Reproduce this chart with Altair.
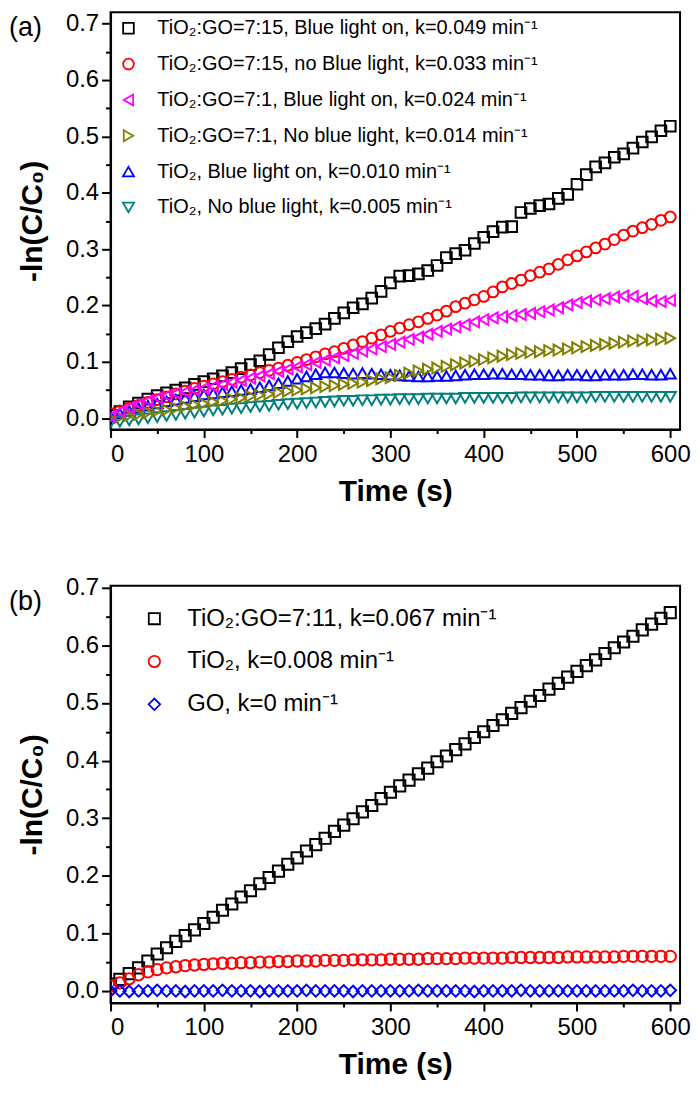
import altair as alt
import pandas as pd

FONT = "Liberation Sans"

# ---------------- data ----------------
time_s = list(range(0, 601, 10))

# Panel (a)
labels_a = [
    "TiO₂:GO=7:15, Blue light on, k=0.049 min⁻¹",
    "TiO₂:GO=7:15, no Blue light, k=0.033 min⁻¹",
    "TiO₂:GO=7:1, Blue light on, k=0.024 min⁻¹",
    "TiO₂:GO=7:1, No blue light, k=0.014 min⁻¹",
    "TiO₂, Blue light on, k=0.010 min⁻¹",
    "TiO₂, No blue light, k=0.005 min⁻¹",
]
colors_a = ["#000000", "#FF0000", "#FF00FF", "#808000", "#0000FF", "#008080"]
shapes_a = ["square", "circle", "triangle-left", "triangle-right", "triangle-up", "triangle-down"]
sizes_a = [115, 125, 210, 210, 160, 160]

black_a = [0.005, 0.012, 0.020, 0.027, 0.034, 0.040, 0.045, 0.050, 0.054, 0.060,
           0.065, 0.070, 0.075, 0.081, 0.088, 0.095, 0.102, 0.113, 0.125, 0.136,
           0.145, 0.152, 0.159, 0.167, 0.177, 0.187, 0.196, 0.203, 0.213, 0.225,
           0.240, 0.252, 0.253, 0.256, 0.262, 0.271, 0.285, 0.292, 0.298, 0.310,
           0.321, 0.331, 0.339, 0.340, 0.365, 0.372, 0.377, 0.380, 0.390, 0.397,
           0.415, 0.432, 0.446, 0.453, 0.463, 0.469, 0.479, 0.490, 0.499, 0.510,
           0.518]
red_a = [0.008, 0.013, 0.018, 0.023, 0.028, 0.033, 0.038, 0.043, 0.048, 0.053,
         0.057, 0.061, 0.065, 0.069, 0.073, 0.077, 0.081, 0.085, 0.089, 0.094,
         0.099, 0.104, 0.109, 0.114, 0.118, 0.124, 0.130, 0.136, 0.142, 0.148,
         0.154, 0.160, 0.166, 0.171, 0.177, 0.183, 0.190, 0.198, 0.204, 0.210,
         0.216, 0.224, 0.233, 0.239, 0.245, 0.253, 0.259, 0.265, 0.273, 0.281,
         0.288, 0.295, 0.302, 0.309, 0.317, 0.325, 0.332, 0.338, 0.344, 0.351,
         0.357]
magenta_a = [0.003, 0.012, 0.019, 0.025, 0.031, 0.036, 0.040, 0.044, 0.047, 0.050,
             0.053, 0.056, 0.060, 0.064, 0.067, 0.071, 0.075, 0.079, 0.083, 0.087,
             0.091, 0.095, 0.099, 0.103, 0.107, 0.111, 0.115, 0.119, 0.123, 0.127,
             0.131, 0.135, 0.140, 0.144, 0.149, 0.154, 0.158, 0.162, 0.166, 0.171,
             0.175, 0.178, 0.180, 0.182, 0.184, 0.186, 0.189, 0.192, 0.196, 0.201,
             0.205, 0.208, 0.210, 0.212, 0.215, 0.217, 0.216, 0.212, 0.208, 0.207,
             0.209]
olive_a = [0.000, 0.002, 0.005, 0.007, 0.010, 0.013, 0.015, 0.018, 0.021, 0.024,
           0.026, 0.029, 0.031, 0.034, 0.036, 0.039, 0.041, 0.043, 0.046, 0.048,
           0.050, 0.052, 0.054, 0.056, 0.058, 0.060, 0.062, 0.064, 0.067, 0.070,
           0.072, 0.076, 0.080, 0.084, 0.087, 0.089, 0.092, 0.095, 0.098, 0.101,
           0.104, 0.107, 0.110, 0.113, 0.115, 0.117, 0.118, 0.120, 0.121, 0.123,
           0.125, 0.127, 0.129, 0.131, 0.133, 0.135, 0.137, 0.138, 0.139, 0.140,
           0.142]
blue_a = [0.003, 0.008, 0.013, 0.018, 0.022, 0.026, 0.030, 0.033, 0.036, 0.039,
          0.042, 0.044, 0.046, 0.048, 0.050, 0.052, 0.055, 0.058, 0.062, 0.066,
          0.070, 0.074, 0.078, 0.081, 0.081, 0.080, 0.079, 0.080, 0.079, 0.078,
          0.077, 0.076, 0.075, 0.074, 0.074, 0.075, 0.075, 0.076, 0.077, 0.078,
          0.078, 0.079, 0.079, 0.078, 0.078, 0.077, 0.077, 0.076, 0.076, 0.077,
          0.077, 0.076, 0.076, 0.077, 0.077, 0.077, 0.078, 0.078, 0.077, 0.077,
          0.079]
teal_a = [-0.008, -0.006, -0.004, -0.002, 0.000, 0.002, 0.004, 0.006, 0.008, 0.010,
          0.012, 0.014, 0.015, 0.017, 0.018, 0.020, 0.021, 0.022, 0.024, 0.025,
          0.026, 0.027, 0.028, 0.029, 0.030, 0.031, 0.031, 0.032, 0.032, 0.033,
          0.033, 0.034, 0.034, 0.034, 0.035, 0.035, 0.035, 0.035, 0.036, 0.036,
          0.036, 0.036, 0.036, 0.036, 0.037, 0.037, 0.037, 0.037, 0.037, 0.037,
          0.037, 0.037, 0.038, 0.038, 0.038, 0.038, 0.038, 0.038, 0.038, 0.038,
          0.038]

# Panel (b)
labels_b = [
    "TiO₂:GO=7:11, k=0.067 min⁻¹",
    "TiO₂, k=0.008 min⁻¹",
    "GO, k=0 min⁻¹",
]
colors_b = ["#000000", "#FF0000", "#0000FF"]
shapes_b = ["square", "circle", "diamond"]
sizes_b = [125, 135, 175]

black_b = [0.012, 0.020, 0.030, 0.040, 0.052, 0.064, 0.075, 0.086, 0.096, 0.106,
           0.117, 0.128, 0.140, 0.151, 0.163, 0.174, 0.186, 0.197, 0.208, 0.220,
           0.231, 0.243, 0.254, 0.265, 0.277, 0.288, 0.299, 0.311, 0.322, 0.334,
           0.345, 0.356, 0.366, 0.377, 0.387, 0.398, 0.408, 0.419, 0.429, 0.440,
           0.450, 0.461, 0.471, 0.482, 0.492, 0.503, 0.513, 0.524, 0.534, 0.545,
           0.555, 0.565, 0.575, 0.586, 0.596, 0.606, 0.616, 0.627, 0.637, 0.647,
           0.657]
red_b = [0.008, 0.014, 0.021, 0.028, 0.033, 0.037, 0.040, 0.042, 0.044, 0.045,
         0.046, 0.047, 0.048, 0.048, 0.049, 0.049, 0.050, 0.050, 0.051, 0.051,
         0.052, 0.052, 0.052, 0.053, 0.053, 0.053, 0.054, 0.054, 0.054, 0.054,
         0.055, 0.055, 0.055, 0.055, 0.056, 0.056, 0.056, 0.056, 0.057, 0.057,
         0.057, 0.057, 0.057, 0.058, 0.058, 0.058, 0.058, 0.058, 0.058, 0.059,
         0.059, 0.059, 0.059, 0.059, 0.059, 0.060, 0.060, 0.060, 0.060, 0.060,
         0.060]
blue_b = [0.000, 0.000, -0.001, 0.000, 0.000, 0.001, 0.000, 0.000, -0.001, 0.000,
          0.000, 0.000, 0.001, 0.000, 0.000, 0.000, -0.001, 0.000, 0.000, 0.000,
          0.000, 0.001, 0.000, 0.000, 0.000, 0.000, -0.001, 0.000, 0.000, 0.000,
          0.000, 0.000, 0.000, 0.001, 0.000, 0.000, 0.000, 0.000, 0.000, -0.001,
          0.000, 0.000, 0.000, 0.000, 0.001, 0.000, 0.000, 0.000, 0.000, 0.000,
          0.000, 0.000, 0.000, 0.000, 0.000, 0.000, 0.001, 0.000, 0.000, 0.000,
          0.001]

x_major = [0, 100, 200, 300, 400, 500, 600]
x_minor = [50, 150, 250, 350, 450, 550]
y_major = [0.0, 0.1, 0.2, 0.3, 0.4, 0.5, 0.6, 0.7]
y_minor = [0.05, 0.15, 0.25, 0.35, 0.45, 0.55, 0.65]


def long_frame(series_lists):
    rows = []
    for lab, vals in series_lists:
        for t, v in zip(time_s, vals):
            rows.append({"time": t, "value": v, "series": lab})
    return pd.DataFrame(rows)


# drawing order (bottom -> top)
df_a = long_frame([
    (labels_a[0], black_a), (labels_a[1], red_a), (labels_a[4], blue_a),
    (labels_a[5], teal_a), (labels_a[3], olive_a), (labels_a[2], magenta_a)])
df_b = long_frame([
    (labels_b[0], black_b), (labels_b[1], red_b), (labels_b[2], blue_b)])

W, H = 572, 419
X_DOMAIN = [0, 610.5]


def panel(df, labels, colors, shapes, sizes, ydom, letter, letter_y,
          leg_x, leg_y, leg_font, leg_rowpad, leg_offset):
    xs = alt.Scale(domain=X_DOMAIN, nice=False, zero=False)
    ys = alt.Scale(domain=ydom, nice=False, zero=False)
    pts = alt.Chart(df).mark_point(filled=False, strokeWidth=2, clip=True, opacity=1).encode(
        x=alt.X("time:Q", scale=xs,
                axis=alt.Axis(values=x_major, title="Time (s)", orient="bottom",
                              format="d", tickSize=8, labelPadding=5, titlePadding=10)),
        y=alt.Y("value:Q", scale=ys,
                axis=alt.Axis(values=y_major, title="-ln(C/C₀)", orient="left",
                              format=".1f", tickSize=9, labelPadding=3, titlePadding=18)),
        color=alt.Color("series:N", scale=alt.Scale(domain=labels, range=colors),
                        legend=alt.Legend(title=None, orient="none", legendX=leg_x, legendY=leg_y,
                                          labelFontSize=leg_font, labelFont=FONT, labelColor="black",
                                          rowPadding=leg_rowpad, labelOffset=leg_offset,
                                          symbolSize=110, symbolStrokeWidth=1.8,
                                          labelLimit=0, padding=0)),
        shape=alt.Shape("series:N", scale=alt.Scale(domain=labels, range=shapes)),
        size=alt.Size("series:N", scale=alt.Scale(domain=labels, range=sizes), legend=None),
    )
    minor = alt.Chart(df).mark_point(opacity=0).encode(
        x=alt.X("time:Q", scale=xs,
                axis=alt.Axis(values=x_minor, orient="bottom", labels=False, title=None,
                              domain=False, tickSize=4)),
        y=alt.Y("value:Q", scale=ys,
                axis=alt.Axis(values=y_minor, orient="left", labels=False, title=None,
                              domain=False, tickSize=5)),
    )
    lab = alt.Chart(pd.DataFrame({"t": [letter]})).mark_text(
        align="left", baseline="middle", fontSize=27, font=FONT, color="black"
    ).encode(x=alt.value(-102), y=alt.value(letter_y), text="t:N")
    return alt.layer(pts, minor, lab).resolve_axis(x="independent", y="independent").properties(
        width=W, height=H)


pa = panel(df_a, labels_a, colors_a, shapes_a, sizes_a, [-0.02, 0.72], "(a)", 16,
           8, 6, 20, 16, 19)
pb = panel(df_b, labels_b, colors_b, shapes_b, sizes_b, [-0.021, 0.7035], "(b)", 16,
           32, 21, 24, 19, 21)

chart = alt.vconcat(pa, pb, spacing=68).resolve_scale(
    color="independent", shape="independent", size="independent"
).properties(padding=0, background="white").configure_view(
    stroke="black", strokeWidth=2
).configure_axis(
    labelFont=FONT, titleFont=FONT, labelFontSize=24, titleFontSize=30,
    titleFontWeight="bold", labelColor="black", titleColor="black",
    tickColor="black", domainColor="black", domainWidth=2, tickWidth=2, grid=False
)

chart.save("out.html", embed_options={"renderer": "svg", "actions": False})
